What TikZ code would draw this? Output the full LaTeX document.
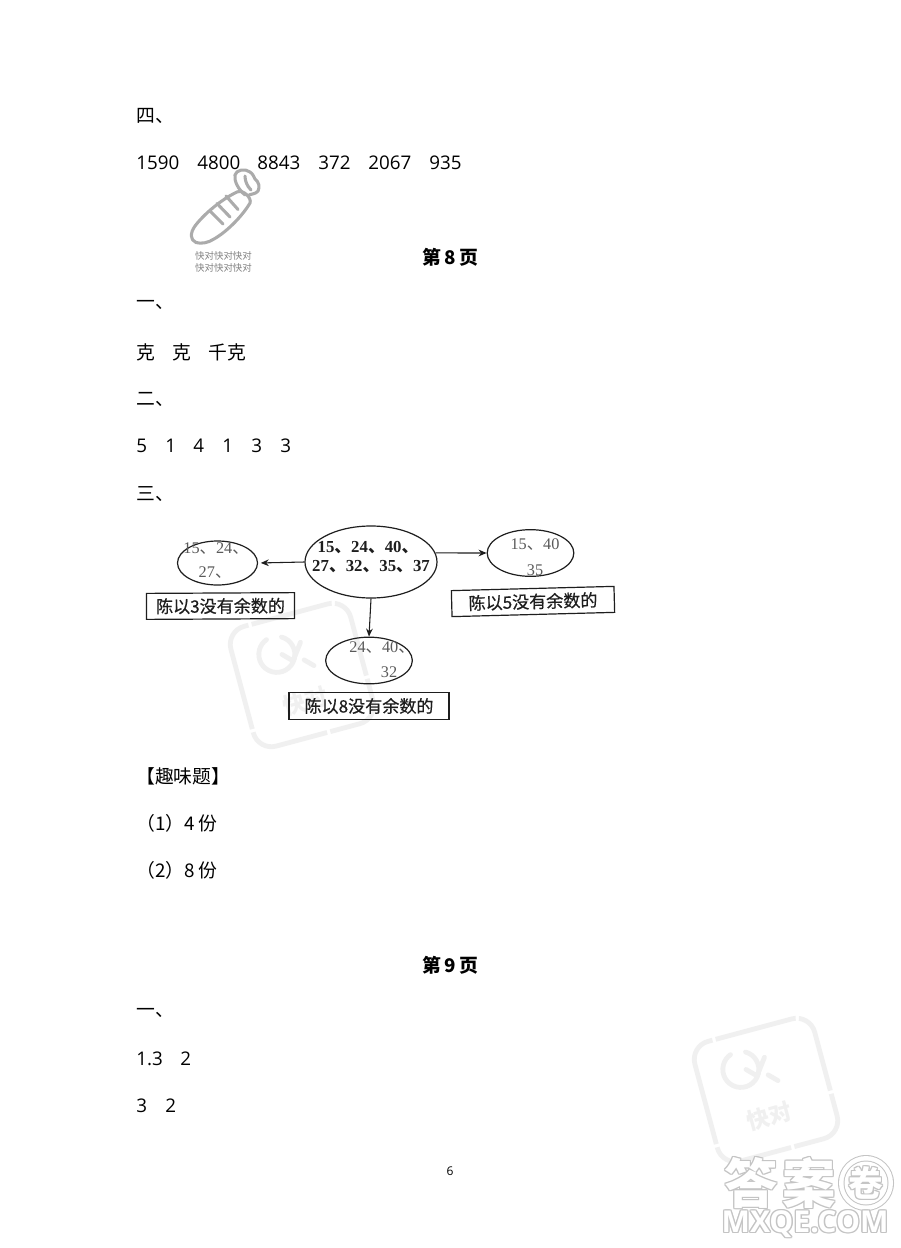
\documentclass[tikz,border=0pt]{standalone}
\usepackage{fontspec}
\setmainfont{Open Sans}
\newfontfamily\cjk{Noto Sans CJK SC}
\newfontfamily\cjkmid[FakeBold=0.6]{Noto Sans CJK SC}
\newfontfamily\numserif{Liberation Serif}
\usetikzlibrary{shapes.geometric,arrows.meta}
\definecolor{wm}{HTML}{F0F0F0}
\definecolor{carrot}{HTML}{ABABAB}
\definecolor{logo}{HTML}{C4C4C4}
\definecolor{scan}{HTML}{1E1E1E}
\definecolor{scangrey}{HTML}{5A5A5A}
\newcommand{\dun}{{\cjk 、}}
\newcommand{\wmark}[4]{%
  \begin{scope}[shift={(#2,#3)},rotate=15]
    \draw[wm,line width=3.6pt,rounded corners=14pt,dash pattern=on 62pt off 2.5pt] (-62,-62) rectangle (62,62);
    \draw[wm,line width=3.6pt,line cap=round] (-10,-42) arc[start angle=-60,end angle=250,radius=18];
    \draw[wm,line width=3.6pt,line cap=round,line join=round] (-14,-25) -- (-5,-16) -- (7,-32);
    \draw[wm,line width=3.6pt,line cap=round] (6,-14) -- (14,-6);
    \node[wmtext] (#1t) at (-4,26) {快对};
  \end{scope}}
\newcommand{\logotext}[5]{%
  \foreach \dx/\dy/\k in {-1/-1/a,1/-1/b,-1/1/c,1/1/d,0/-1.3/e,0/1.3/f,-1.3/0/g,1.3/0/h}
    \node[#1,text=logo] (#2\k) at ([shift={(\dx,\dy)}]#3,#4) {#5};
  \node[#1,text=white] (#2) at (#3,#4) {#5};}
\tikzset{
  x=0.75pt,y=-0.75pt,
  body/.style={anchor=west,inner sep=0pt,font=\fontsize{14.1pt}{17pt}\selectfont,text=black},
  bodycjk/.style={body,font=\cjk\fontsize{14.1pt}{17pt}\selectfont},
  heading/.style={inner sep=0pt,font=\cjk\bfseries\fontsize{14.1pt}{17pt}\selectfont},
  carrotline/.style={draw=carrot,line width=2.3pt,line cap=round,line join=round},
  carrottext/.style={inner sep=0pt,text=gray,font=\cjk\fontsize{7.1pt}{9pt}\selectfont},
  wmtext/.style={inner sep=0pt,text=wm,transform shape,font=\cjk\bfseries\fontsize{17pt}{20pt}\selectfont},
  oval/.style={draw=scan,line width=0.9pt,ellipse,inner sep=0pt},
  numdark/.style={inner sep=0pt,text=scan,font=\numserif\bfseries\fontsize{12.6pt}{15pt}\selectfont},
  numgrey/.style={inner sep=0pt,text=scangrey,font=\numserif\fontsize{12.2pt}{15pt}\selectfont},
  label/.style={draw=scan,line width=0.9pt,inner sep=0pt,text=scan,font=\cjkmid\fontsize{12.8pt}{15pt}\selectfont},
  link/.style={draw=scan,line width=0.8pt,-{Stealth[length=6pt,width=5pt]}},
  biglogo/.style={inner sep=0pt,font=\cjk\bfseries\fontsize{40pt}{44pt}\selectfont},
  latinlogo/.style={inner sep=0pt,font=\bfseries\fontsize{22.6pt}{26pt}\selectfont},
}
\begin{document}
\begin{tikzpicture}
\useasboundingbox[fill=white] (0,0) rectangle (900,1248);
% watermarks
\wmark{wa}{302}{675}{}
\wmark{wb}{766}{1090}{}
% logo
\logotext{biglogo}{da}{751}{1183}{答}
\logotext{biglogo}{an}{809}{1183}{案}
\fill[logo] (866,1183) circle[radius=28];
\fill[white] (866,1183) circle[radius=27];
\fill[logo] (866,1183) circle[radius=22.5];
\fill[white] (866,1183) circle[radius=21.5];
\logotext{inner sep=0pt,font=\cjk\bfseries\fontsize{26pt}{30pt}\selectfont}{juan}{866}{1183}{卷}
\logotext{latinlogo}{mx}{805}{1224}{MXQE.COM}
% text
\node[bodycjk] (t1) at (136,116) {四、};
\node[body] (n1) at (136,163) {1590};
\node[body] (n2) at (197,163) {4800};
\node[body] (n3) at (257,163) {8843};
\node[body] (n4) at (318,163) {372};
\node[body] (n5) at (368,163) {2067};
\node[body] (n6) at (429,163) {935};
% carrot
\draw[carrotline] (237,192) .. controls (222,199) and (204,214) .. (195,226)
  .. controls (190,233) and (190,240) .. (196,242.5)
  .. controls (201,244) and (208,243) .. (214,239)
  .. controls (228,231) and (243,215) .. (250,203)
  .. controls (252,198) and (243,189) .. (237,192);
\draw[carrotline] (210,211) -- (223,224);
\draw[carrotline] (217,203.5) -- (230,217);
\draw[carrotline] (226,196) -- (238,209.5);
\draw[carrotline] (245,195) .. controls (238,189) and (234,181) .. (235,175)
  .. controls (236,170) and (245,168) .. (250,172)
  .. controls (253,174) and (254,177) .. (255,179)
  .. controls (259,182) and (260,187) .. (258,191)
  .. controls (256,194) and (251,194) .. (249,195);
\draw[carrotline] (245,176) .. controls (245,181) and (247,186) .. (251,190);
\node[carrottext] (c1) at (223.5,256) {快对快对快对};
\node[carrottext] (c2) at (223.5,268) {快对快对快对};
\node[heading] (h8) at (450.5,257) {第\,8\,页};
\node[bodycjk] (t2) at (136,305) {一、};
\node[bodycjk] (k1) at (136,352) {克};
\node[bodycjk] (k2) at (172,352) {克};
\node[bodycjk] (k3) at (208,352) {千克};
\node[bodycjk] (t3) at (136,399) {二、};
\node[body] (r1) at (136,446) {5};
\node[body] (r2) at (165,446) {1};
\node[body] (r3) at (193,446) {4};
\node[body] (r4) at (222,446) {1};
\node[body] (r5) at (251,446) {3};
\node[body] (r6) at (280,446) {3};
\node[bodycjk] (t4) at (136,494) {三、};
% diagram
\node[oval,minimum width=99pt,minimum height=54pt] (main) at (371,562) {};
\node[oval,minimum width=60pt,minimum height=33pt] (left) at (217.5,563) {};
\node[oval,minimum width=65pt,minimum height=35pt] (right) at (530.5,553) {};
\node[oval,minimum width=65pt,minimum height=35pt] (bottom) at (369,660.5) {};
\node[numdark] (m1) at (368,548) {15\dun24\dun40\dun};
\node[numdark] (m2) at (371,567) {27\dun32\dun35\dun37};
\node[numgrey] (l1) at (216,549) {15\dun24\dun};
\node[numgrey] (l2) at (215,573) {27\dun};
\node[numgrey] (g1) at (535,545) {15\dun40};
\node[numgrey] (g2) at (535,570) {35};
\node[numgrey] (b1) at (382,648) {24\dun40\dun};
\node[numgrey] (b2) at (389,672) {32};
\node[label,minimum width=111pt,minimum height=19.5pt,rotate=0.3] (la) at (220.5,606) {陈以3没有余数的};
\node[label,minimum width=122pt,minimum height=19.5pt,rotate=1.5] (lb) at (533,601.5) {陈以5没有余数的};
\node[label,minimum width=120pt,minimum height=20.5pt] (lc) at (369,706) {陈以8没有余数的};
\draw[link,shorten >=2pt] (main.west) -- (left.east);
\draw[link] (main.8) -- (right.west);
\draw[link] (main.south) -- (bottom.north);
% rest
\node[bodycjk] (t5) at (136,776) {【趣味题】};
\node[bodycjk] (q1) at (136,823) {（1）4 份};
\node[bodycjk] (q2) at (136,870) {（2）8 份};
\node[heading] (h9) at (450.5,965) {第\,9\,页};
\node[bodycjk] (t6) at (136,1013) {一、};
\node[body] (a1) at (136,1059) {1.3};
\node[body] (a2) at (180,1059) {2};
\node[body] (a3) at (136,1106) {3};
\node[body] (a4) at (165,1106) {2};
\node[inner sep=0pt,font=\fontsize{9pt}{11pt}\selectfont] (pg) at (450,1171) {6};
\end{tikzpicture}
\end{document}
